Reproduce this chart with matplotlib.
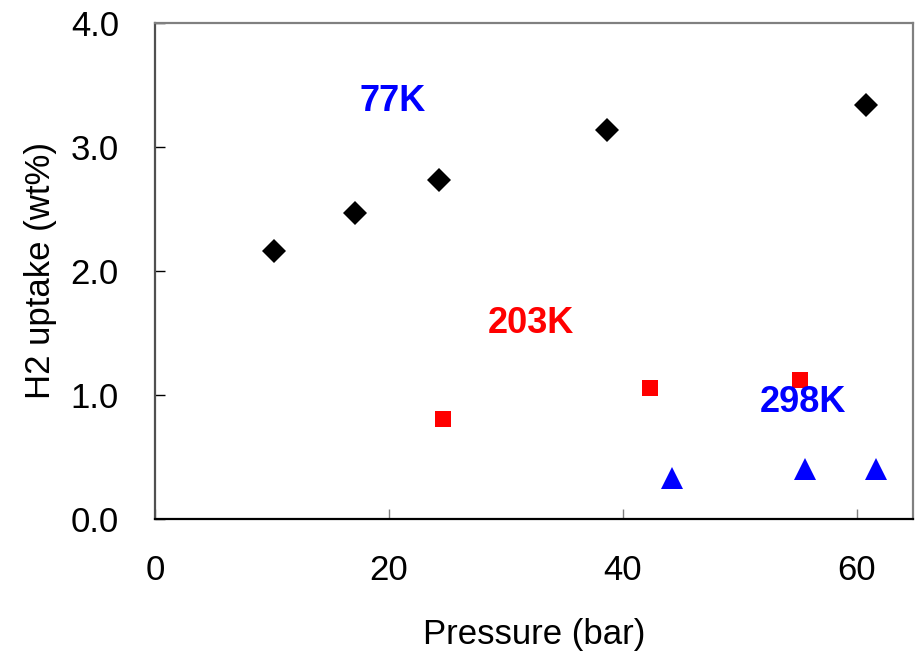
import matplotlib
matplotlib.use("Agg")
import matplotlib.pyplot as plt

plt.rcParams["font.family"] = ["Liberation Sans", "DejaVu Sans"]

# 77K (losangos pretos)
p_77k = [10.2, 17.1, 24.3, 38.6, 60.8]
h2_77k = [2.16, 2.47, 2.73, 3.14, 3.34]

# 203K (quadrados vermelhos)
p_203k = [24.6, 42.3, 55.1]
h2_203k = [0.81, 1.06, 1.12]

# 298K (triangulos azuis)
p_298k = [44.2, 55.6, 61.6]
h2_298k = [0.33, 0.40, 0.40]

x_ticks = [0, 20, 40, 60]
y_ticks = [0.0, 1.0, 2.0, 3.0, 4.0]

fig = plt.figure(figsize=(9.16, 6.52), dpi=100)
ax = fig.add_axes([155 / 916, 1 - 519 / 652, (913 - 155) / 916, (519 - 23) / 652])

ax.plot(p_77k, h2_77k, linestyle="none", marker="D", markersize=12.5,
        color="black", markeredgewidth=0)
ax.plot(p_203k, h2_203k, linestyle="none", marker="s", markersize=11,
        color="#FF0000", markeredgewidth=0)
ax.plot(p_298k, h2_298k, linestyle="none", marker="^", markersize=16.5,
        color="#0000FF", markeredgewidth=0)

ax.text(20.3, 3.37, "77K", color="#0000FF", fontsize=26, fontweight="bold",
        ha="center", va="center")
ax.text(32.1, 1.58, "203K", color="#FF0000", fontsize=26, fontweight="bold",
        ha="center", va="center")
ax.text(55.4, 0.94, "298K", color="#0000FF", fontsize=26, fontweight="bold",
        ha="center", va="center")

ax.set_xlim(0, 64.8)
ax.set_ylim(0, 4.0)
ax.set_xticks(x_ticks)
ax.set_xticklabels([str(v) for v in x_ticks])
ax.set_yticks(y_ticks)
ax.set_yticklabels([f"{v:.1f}" for v in y_ticks])

ax.tick_params(axis="both", direction="in", length=7, width=1, labelsize=25)
ax.tick_params(axis="x", pad=25.5, color="#808080")
ax.tick_params(axis="y", pad=26, color="black")

ax.set_xlabel("Pressure (bar)", fontsize=25, labelpad=22)
ax.set_ylabel("H2 uptake (wt%)", fontsize=25, labelpad=10)

ax.spines["left"].set_color("#505050")
ax.spines["bottom"].set_color("black")
ax.spines["top"].set_color("#808080")
ax.spines["right"].set_color("#808080")
for s in ax.spines.values():
    s.set_linewidth(1.6)

fig.savefig("out.png", dpi=100, facecolor="white")
